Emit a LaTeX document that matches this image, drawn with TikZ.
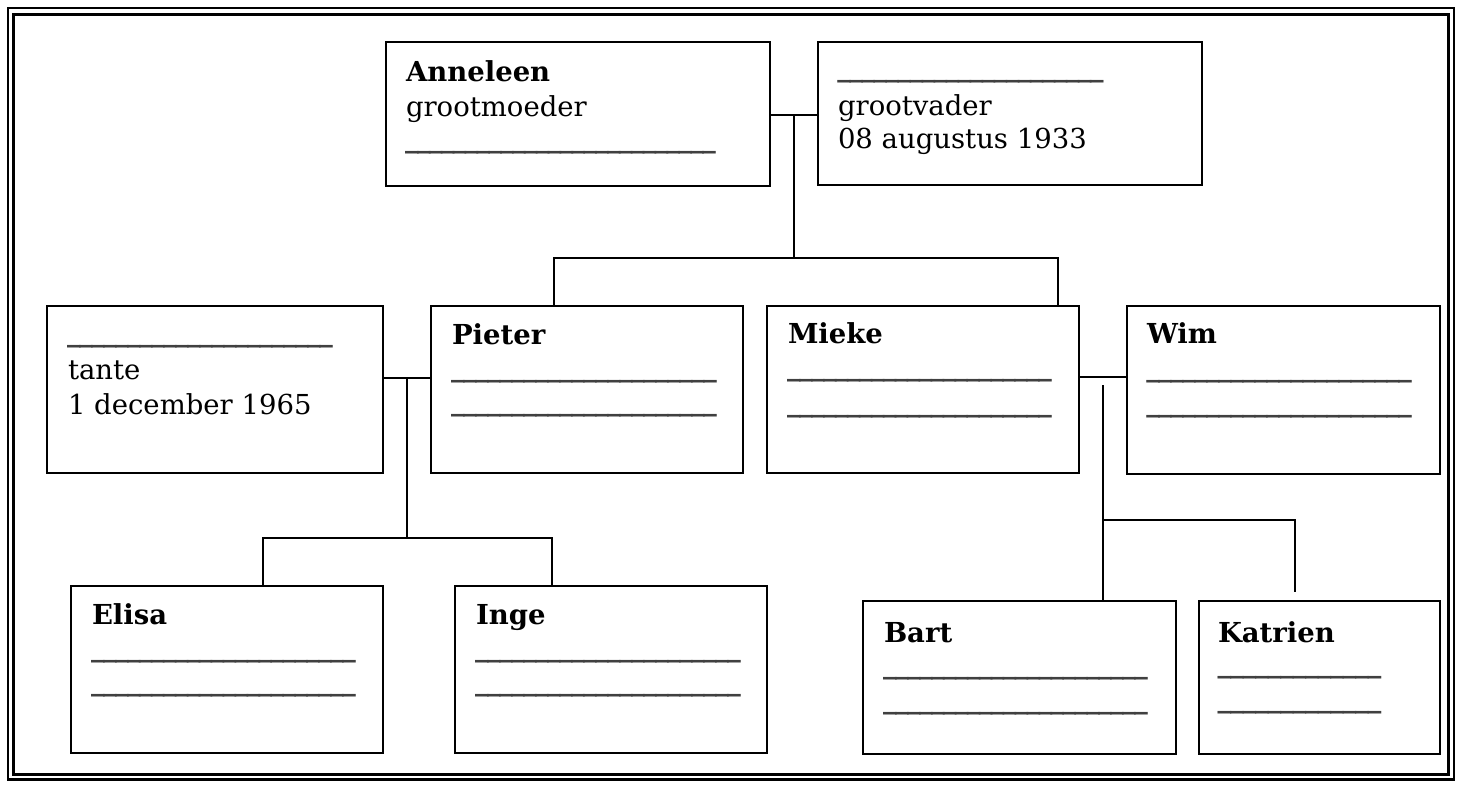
\documentclass[tikz,border=0pt]{standalone}
\usepackage{fontspec}
\setmainfont{DejaVu Serif}
\usetikzlibrary{calc}
\newcommand{\blankline}[1]{\makebox[#1][l]{\bfseries\xleaders\hbox{\kern-1pt\_\kern-1pt}\hfill}}
\begin{document}
\begin{tikzpicture}[x=1pt,y=-1pt,
  font=\fontsize{27.5}{35}\selectfont,
  box/.style={draw, line width=2pt, inner sep=0pt, outer sep=0pt, anchor=north west},
  lbl/.style={anchor=base west, inner sep=0pt, outer sep=0pt},
  uline/.style={anchor=base west, inner sep=0pt, outer sep=0pt, text=black!75, yshift=5.8pt},
  conn/.style={line width=2pt},
  frameA/.style={line width=2.5pt},
  frameB/.style={line width=3pt}]
\useasboundingbox (0,0) rectangle (1462,787);
% page border
\draw[frameA] (8,8) rectangle (1454,779.5);
\draw[frameB] (13.5,14) rectangle (1448.5,774.5);
% boxes
\node[box, minimum width=384pt, minimum height=144pt] (ann) at (386,42) {};
\node[box, minimum width=384pt, minimum height=143pt] (gv) at (818,42) {};
\node[box, minimum width=336pt, minimum height=167pt] (tante) at (47,306) {};
\node[box, minimum width=312pt, minimum height=167pt] (pieter) at (431,306) {};
\node[box, minimum width=312pt, minimum height=167pt] (mieke) at (767,306) {};
\node[box, minimum width=313pt, minimum height=168pt] (wim) at (1127,306) {};
\node[box, minimum width=312pt, minimum height=167pt] (elisa) at (71,586) {};
\node[box, minimum width=312pt, minimum height=167pt] (inge) at (455,586) {};
\node[box, minimum width=313pt, minimum height=153pt] (bart) at (863,601) {};
\node[box, minimum width=241pt, minimum height=153pt] (katrien) at (1199,601) {};
% texts
\node[lbl] (annA) at (406,81) {\textbf{Anneleen}};
\node[lbl] (annB) at (406,116) {grootmoeder};
\node[uline] (annC) at (406,153) {\blankline{309pt}};
\node[uline] (gvA) at (838,82) {\blankline{265pt}};
\node[lbl] (gvB) at (838,115) {grootvader};
\node[lbl] (gvC) at (838,148) {08 augustus 1933};
\node[uline] (taA) at (68,347) {\blankline{264pt}};
\node[lbl] (taB) at (68,379) {tante};
\node[lbl] (taC) at (68,414) {1 december 1965};
\node[lbl] (piA) at (452,344) {\textbf{Pieter}};
\node[uline] (piB) at (452,382) {\blankline{264pt}};
\node[uline] (piC) at (452,416) {\blankline{264pt}};
\node[lbl] (miA) at (788,343) {\textbf{Mieke}};
\node[uline] (miB) at (788,381) {\blankline{263pt}};
\node[uline] (miC) at (788,417) {\blankline{263pt}};
\node[lbl] (wiA) at (1147,343) {\textbf{Wim}};
\node[uline] (wiB) at (1147,382) {\blankline{264pt}};
\node[uline] (wiC) at (1147,417) {\blankline{264pt}};
\node[lbl] (elA) at (92,624) {\textbf{Elisa}};
\node[uline] (elB) at (92,662) {\blankline{263pt}};
\node[uline] (elC) at (92,696) {\blankline{263pt}};
\node[lbl] (inA) at (476,624) {\textbf{Inge}};
\node[uline] (inB) at (476,662) {\blankline{264pt}};
\node[uline] (inC) at (476,696) {\blankline{264pt}};
\node[lbl] (baA) at (884,642) {\textbf{Bart}};
\node[uline] (baB) at (884,679) {\blankline{263pt}};
\node[uline] (baC) at (884,714) {\blankline{263pt}};
\node[lbl] (kaA) at (1218,642) {\textbf{Katrien}};
\node[uline] (kaB) at (1218,678) {\blankline{163pt}};
\node[uline] (kaC) at (1218,713) {\blankline{163pt}};
% connectors: grandparents
\coordinate (gp) at (794,115);
\coordinate (gpJ) at (794,258);
\coordinate (gpL) at (554,258);
\coordinate (gpR) at (1058,258);
\draw[conn] (ann.east |- gp) -- (gv.west |- gp);
\draw[conn] (gp) -- (gpJ);
\draw[conn] (gpL |- pieter.north) -- (gpL) -- (gpR) -- (gpR |- mieke.north);
% connectors: tante + Pieter
\coordinate (tp) at (407,378);
\coordinate (tpJ) at (407,538);
\coordinate (tpL) at (263,538);
\coordinate (tpR) at (552,538);
\draw[conn] (tante.east |- tp) -- (pieter.west |- tp);
\draw[conn] (tp) -- (tpJ);
\draw[conn] (tpL |- elisa.north) -- (tpL) -- (tpR) -- (tpR |- inge.north);
% connectors: Mieke + Wim
\coordinate (mw) at (1103,377);
\coordinate (mwS) at (1103,385);
\coordinate (mwJ) at (1103,520);
\coordinate (mwR) at (1295,520);
\coordinate (mwE) at (1295,592);
\draw[conn] (mieke.east |- mw) -- (wim.west |- mw);
\draw[conn] (mwS) -- (mwS |- bart.north);
\draw[conn] (mwJ) -- (mwR) -- (mwE);
\end{tikzpicture}
\end{document}
